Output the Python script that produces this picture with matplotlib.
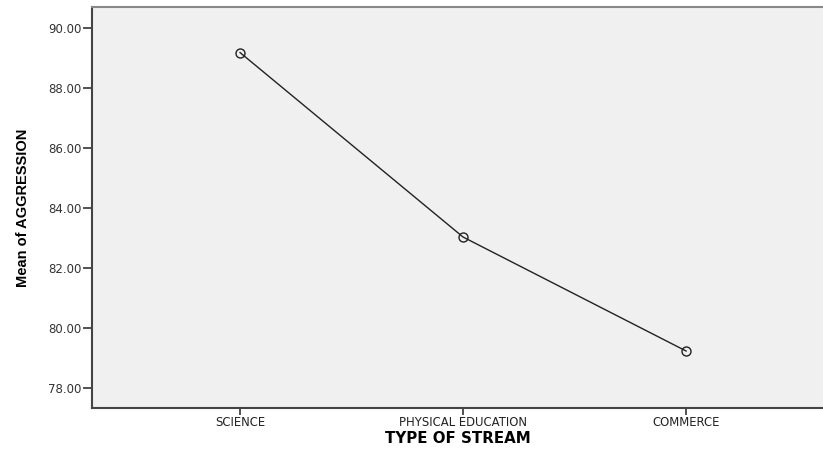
import matplotlib
matplotlib.use("Agg")
import matplotlib.pyplot as plt

streams = ["SCIENCE", "PHYSICAL EDUCATION", "COMMERCE"]
mean_aggression = [89.18, 83.03, 79.23]
yticks = [78, 80, 82, 84, 86, 88, 90]

plt.rcParams["font.family"] = ["DejaVu Sans"]

fig = plt.figure(figsize=(8.23, 4.53), dpi=100)
ax = fig.add_axes([92 / 823, 45 / 453, 731 / 823, 401 / 453])
ax.set_facecolor("#f0f0f0")

x = range(len(streams))
ax.plot(x, mean_aggression, color="#222222", lw=1.0, marker="o", ms=6.5,
        mfc="none", mec="#222222", mew=1.0)

ax.set_xlim(-0.664, 2.614)
ax.set_ylim(77.33, 90.7)
ax.set_xticks(list(x))
ax.set_xticklabels(streams, fontsize=8.4, color="#222222")
ax.set_yticks(yticks)
ax.set_yticklabels([f"{v:.2f}" for v in yticks], fontsize=8.5, color="#333333")
ax.tick_params(axis="y", length=6.5, width=1.2, color="#333333", pad=1)
ax.tick_params(axis="x", length=5, width=1.2, color="#333333", pad=0.5)

for side in ["left", "bottom"]:
    ax.spines[side].set_linewidth(1.5)
    ax.spines[side].set_color("#444444")
ax.spines["top"].set_linewidth(1.5)
ax.spines["top"].set_color("#888888")
ax.spines["right"].set_visible(False)

ax.set_ylabel("Mean of AGGRESSION", fontsize=10.5, fontweight="bold",
              family=["Liberation Sans", "DejaVu Sans"], labelpad=13)
ax.set_xlabel("TYPE OF STREAM", fontsize=10.8, fontweight="bold", labelpad=1.5)

fig.savefig("out.png", dpi=100)
